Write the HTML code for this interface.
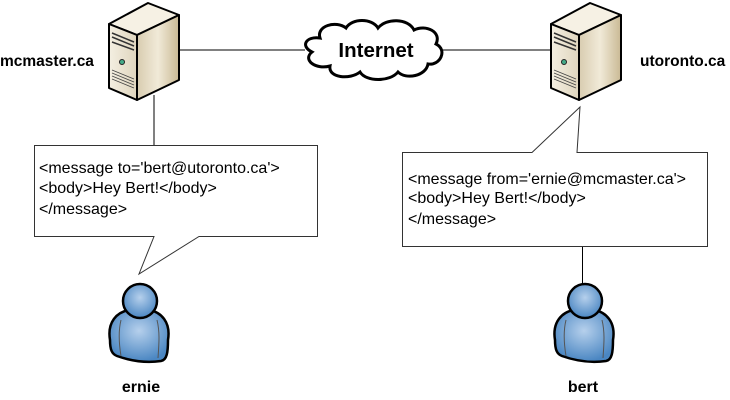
<!DOCTYPE html>
<html><head><meta charset="utf-8"><style>
html,body{margin:0;padding:0;background:#fff;}
svg{display:block;}
text{font-family:"Liberation Sans",Arial,sans-serif;}
</style></head><body>
<svg width="730" height="400" viewBox="0 0 730 400" xmlns="http://www.w3.org/2000/svg">
<defs>
<linearGradient id="side" x1="0" y1="0" x2="1" y2="0">
<stop offset="0" stop-color="#d8ccb0"/><stop offset="0.5" stop-color="#f1ead8"/><stop offset="1" stop-color="#c9b994"/></linearGradient>
<linearGradient id="front" x1="0" y1="0" x2="1" y2="0">
<stop offset="0" stop-color="#f4efe2"/><stop offset="1" stop-color="#dfd5bd"/></linearGradient>
<radialGradient id="pers" cx="0.5" cy="0.4" r="0.6">
<stop offset="0" stop-color="#b6d0ec"/><stop offset="1" stop-color="#4a86c2"/></radialGradient>
<g id="server">
<polygon points="0,24 39,3 70,15 28,35" fill="#f6f1e4" stroke="#000" stroke-width="2" stroke-linejoin="round"/>
<polygon points="28,35 70,15 70,80 28,100" fill="url(#side)" stroke="#000" stroke-width="2" stroke-linejoin="round"/>
<polygon points="0,24 28,35 28,100 0,88" fill="url(#front)" stroke="#000" stroke-width="2" stroke-linejoin="round"/>
<path d="M3,33 L25,42 M3,37 L25,46 M3,42 L25,50" stroke="#333" stroke-width="1.5"/>
<circle cx="13" cy="62" r="2.5" fill="#4a8" stroke="#222"/>
<path d="M3,70 L25,79 M3,73 L25,82 M3,76 L25,85 M3,79 L25,88" stroke="#444" stroke-width="0.8"/>
</g>
<g id="person">
<path d="M1,56 C-2,38 8,28 20,26 L40,26 C52,28 62,38 59,56 C59,68 58,76 52,77 C38,79 22,77 8,72 C3,70 1,66 1,56 Z" fill="url(#pers)" stroke="#000" stroke-width="2.5"/>
<path d="M12,36 C9,48 10,60 12,72 M48,36 C51,48 50,60 49,74" stroke="#555" stroke-width="1" fill="none"/>
<circle cx="31" cy="17" r="17" fill="url(#pers)" stroke="#000" stroke-width="2.5"/>
</g>
</defs>
<line x1="179" y1="50" x2="305" y2="50" stroke="#000"/>
<line x1="440" y1="50" x2="551" y2="50" stroke="#000"/>
<line x1="154" y1="95" x2="154" y2="145" stroke="#000"/>
<line x1="582.5" y1="246" x2="582.5" y2="286" stroke="#000"/>
<use href="#server" x="109" y="0"/>
<use href="#server" x="551" y="0"/>
<path d="M320,38 C316,26 336,20 346,28 C352,18 372,18 378,28 C386,18 408,18 414,30 C426,24 442,32 436,44 C448,50 440,66 428,64 C426,76 406,80 398,72 C390,82 366,82 360,72 C350,80 328,78 330,66 C316,70 302,60 312,52 C300,46 306,36 320,38 Z" fill="#fff" stroke="#000" stroke-width="3"/>
<text x="376" y="57" font-size="20.5" font-weight="bold" text-anchor="middle">Internet</text>
<text x="0" y="66" font-size="15.5" font-weight="bold">mcmaster.ca</text>
<text x="640" y="66" font-size="15.5" font-weight="bold">utoronto.ca</text>
<path d="M34.5,145.5 L317.5,145.5 L317.5,236.5 L199,236.5 L139,274 L154,236.5 L34.5,236.5 Z" fill="#fff" stroke="#333"/>
<text font-size="16" x="39"><tspan y="173">&lt;message to='bert@utoronto.ca'&gt;</tspan><tspan x="39" y="193">&lt;body&gt;Hey Bert!&lt;/body&gt;</tspan><tspan x="39" y="214">&lt;/message&gt;</tspan></text>
<path d="M402.5,152.5 L532,152.5 L580,107 L577,152.5 L707.5,152.5 L707.5,246.5 L402.5,246.5 Z" fill="#fff" stroke="#333"/>
<text font-size="16" x="408"><tspan y="184">&lt;message from='ernie@mcmaster.ca'&gt;</tspan><tspan x="408" y="203">&lt;body&gt;Hey Bert!&lt;/body&gt;</tspan><tspan x="408" y="224">&lt;/message&gt;</tspan></text>
<use href="#person" x="109" y="284"/>
<use href="#person" x="554" y="284"/>
<text x="141" y="392" font-size="16" font-weight="bold" text-anchor="middle">ernie</text>
<text x="583" y="392" font-size="16" font-weight="bold" text-anchor="middle">bert</text>
</svg>
</body></html>
